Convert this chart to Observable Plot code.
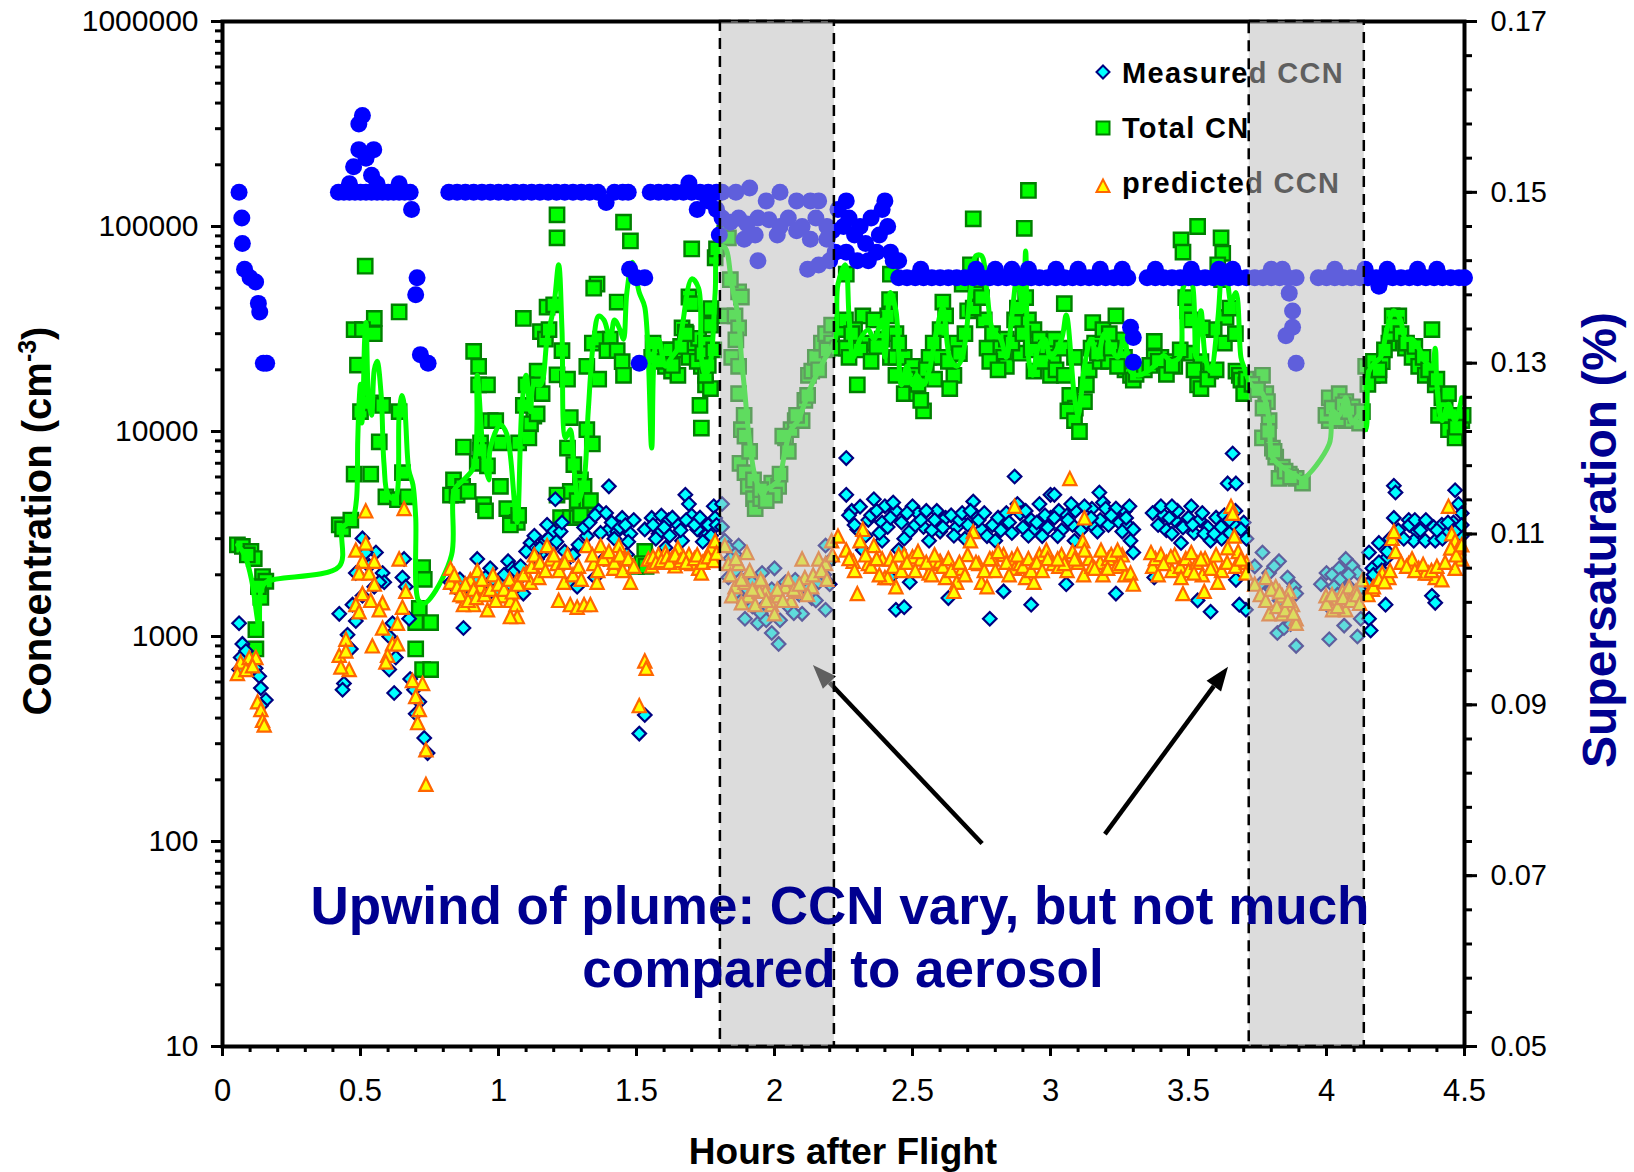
<!DOCTYPE html>
<html><head><meta charset="utf-8">
<script src="https://cdn.jsdelivr.net/npm/d3@7"></script>
<script src="https://cdn.jsdelivr.net/npm/@observablehq/plot@0.6"></script>
<style>
html,body{margin:0;padding:0;background:#fff;}
#wrap{position:relative;width:1634px;height:1172px;overflow:hidden;background:#fff;}
#wrap svg{position:absolute;left:0;top:0;}
</style></head><body><div id="wrap"></div><script>
// ---------------- data ----------------
const hourTicks = [0, 0.5, 1, 1.5, 2, 2.5, 3, 3.5, 4, 4.5];
const concTicks = [10, 100, 1000, 10000, 100000, 1000000];
const ssTicks = [0.05, 0.07, 0.09, 0.11, 0.13, 0.15, 0.17];
const shadedPeriods = [[1.804, 2.217], [3.72, 4.137]];

// Supersaturation (%) [hours, value]
const supersaturation = [
[0.06,0.150],[0.07,0.147],[0.072,0.144],[0.08,0.141],[0.10,0.140],[0.12,0.1395],[0.13,0.137],[0.135,0.136],[0.148,0.130],[0.16,0.130],
[0.42,0.150],[0.44,0.150],[0.46,0.151],[0.475,0.153],[0.46,0.150],[0.48,0.150],[0.494,0.155],[0.494,0.158],[0.507,0.159],[0.50,0.150],[0.52,0.154],[0.52,0.150],[0.54,0.152],[0.548,0.155],[0.54,0.150],[0.56,0.151],[0.56,0.150],[0.58,0.150],[0.60,0.150],[0.62,0.150],[0.64,0.151],[0.64,0.150],[0.66,0.150],[0.68,0.150],[0.685,0.148],[0.705,0.140],[0.70,0.138],[0.717,0.131],[0.745,0.130],
[0.82,0.150],[0.85,0.150],[0.88,0.150],[0.91,0.150],[0.94,0.150],[0.97,0.150],[1.00,0.150],[1.03,0.150],[1.06,0.150],[1.09,0.150],[1.12,0.150],[1.15,0.150],[1.18,0.150],[1.21,0.150],[1.24,0.150],[1.27,0.150],[1.30,0.150],[1.33,0.150],[1.36,0.150],[1.39,0.1488],[1.42,0.150],[1.45,0.150],[1.47,0.150],[1.475,0.141],[1.50,0.140],[1.53,0.140],[1.51,0.130],
[1.55,0.150],[1.58,0.150],[1.61,0.150],[1.64,0.150],[1.67,0.150],[1.69,0.1511],[1.70,0.150],[1.72,0.148],[1.73,0.150],[1.76,0.149],[1.76,0.150],[1.79,0.148],[1.79,0.150],
[1.81,0.150],[1.86,0.150],[1.91,0.1505],[1.97,0.149],[2.02,0.150],[2.08,0.149],[2.13,0.149],[2.16,0.149],[1.81,0.147],[1.84,0.1465],[1.87,0.147],[1.90,0.1463],[1.94,0.147],[1.98,0.1468],[2.02,0.146],[2.05,0.147],[2.10,0.146],[2.15,0.147],[2.19,0.146],[1.80,0.145],[1.89,0.1445],[1.93,0.145],[2.01,0.145],[2.08,0.1455],[2.13,0.1445],[2.19,0.1445],[2.21,0.1455],[1.94,0.142],[2.12,0.141],[2.16,0.1415],[2.20,0.142],[2.22,0.143],
[2.23,0.148],[2.25,0.146],[2.26,0.149],[2.27,0.147],[2.29,0.145],[2.31,0.146],[2.33,0.144],[2.35,0.147],[2.37,0.143],[2.38,0.145],[2.39,0.148],[2.41,0.146],[2.42,0.143],[2.43,0.142],[2.45,0.142],[2.26,0.143],[2.30,0.142],[2.34,0.142],[2.40,0.149],
[2.45,0.140],[2.48,0.140],[2.51,0.140],[2.53,0.141],[2.54,0.140],[2.57,0.140],[2.60,0.140],[2.63,0.140],[2.66,0.140],[2.69,0.140],[2.72,0.140],[2.73,0.141],[2.75,0.140],[2.78,0.140],[2.80,0.141],[2.81,0.140],[2.84,0.140],[2.86,0.141],[2.87,0.140],[2.90,0.140],[2.92,0.141],[2.93,0.140],[2.96,0.140],[2.99,0.140],[3.02,0.141],[3.02,0.140],[3.05,0.140],[3.08,0.140],[3.10,0.141],[3.11,0.140],[3.14,0.140],[3.17,0.140],[3.18,0.141],[3.20,0.140],[3.23,0.140],[3.26,0.141],[3.26,0.140],[3.28,0.140],
[3.29,0.1342],[3.30,0.133],[3.30,0.1301],
[3.35,0.140],[3.38,0.141],[3.38,0.140],[3.41,0.140],[3.44,0.140],[3.47,0.140],[3.50,0.140],[3.51,0.141],[3.53,0.140],[3.56,0.140],[3.59,0.140],[3.61,0.141],[3.62,0.140],[3.65,0.140],[3.66,0.141],[3.68,0.140],[3.71,0.140],[3.74,0.140],[3.77,0.140],[3.80,0.141],[3.80,0.140],[3.83,0.140],[3.84,0.141],[3.86,0.140],[3.89,0.140],
[3.865,0.1382],[3.877,0.1361],[3.853,0.1332],[3.877,0.1342],[3.89,0.130],
[3.97,0.140],[4.00,0.140],[4.03,0.141],[4.03,0.140],[4.06,0.140],[4.09,0.140],[4.12,0.140],[4.14,0.141],[4.15,0.140],[4.18,0.140],[4.19,0.139],[4.21,0.140],[4.22,0.141],[4.24,0.140],[4.27,0.140],[4.30,0.140],[4.33,0.141],[4.33,0.140],[4.36,0.140],[4.39,0.140],[4.40,0.141],[4.42,0.140],[4.45,0.140],[4.48,0.140],[4.50,0.140]
];

// Total CN (cm^-3) [hours, value]
const totalCN = [
[0.054,2800],[0.072,2750],[0.103,2600],[0.115,2400],[0.145,1960],[0.157,1860],[0.139,1550],[0.121,1080],[0.121,870],[0.09,2500],[0.13,1750],
[0.517,64000],[0.64,38300],[0.55,35600],[0.477,31400],[0.507,31400],[0.55,30000],[0.489,21100],[0.50,12500],[0.537,13800],[0.58,13400],[0.568,8900],[0.477,6200],[0.537,6200],[0.592,4800],[0.634,4650],[0.652,6300],[0.423,3500],[0.435,3350],[0.465,3700],[0.725,2170],[0.731,1900],[0.713,1370],[0.70,1170],[0.70,870],[0.725,690],[0.64,12500],[0.67,4800],[0.754,1170],[0.754,690],
[1.212,114000],[1.212,88000],[1.453,105000],[1.478,85000],[1.357,52400],[1.345,50000],[1.43,42800],[1.09,35600],[1.176,40400],[1.20,41500],[1.152,30700],[1.17,28200],[1.183,31400],[1.34,27000],[1.37,28200],[1.405,28200],[1.393,24800],[1.43,24800],[1.448,21900],[0.91,24600],[0.928,20800],[0.928,16900],[0.96,16900],[1.23,24800],[1.212,18900],[1.25,18000],[1.32,20800],[1.363,18000],[1.453,18800],[1.14,19700],[1.10,16900],[1.14,16900],[1.158,15300],[1.128,11900],[1.09,13400],[1.116,10900],[1.14,12200],[0.873,8400],[0.935,8800],[0.97,11300],[0.99,11300],[1.007,8800],[1.073,8800],[1.11,9300],[0.923,7000],[0.935,8100],[0.96,6800],[0.837,5800],[0.87,5400],[0.826,4900],[0.85,4900],[0.89,5100],[1.26,11700],[1.32,10200],[1.34,8700],[1.25,8300],[1.273,6900],[1.297,5800],[1.31,5400],[1.26,5100],[1.285,4600],[1.32,4400],[1.333,4600],[1.212,4900],[0.946,4400],[0.953,4100],[1.007,5400],[1.03,4200],[1.068,3600],[1.043,3500],[1.073,3900],[1.225,3800],[1.26,3800],[1.285,3800],[1.297,3900],[1.50,2200],
[1.70,77700],[1.785,70400],[1.79,77700],[1.69,45300],[1.70,42000],[1.77,39800],[1.665,32000],[1.677,30500],[1.64,25000],[1.706,25500],[1.725,28500],[1.75,27000],[1.768,33000],[1.58,25000],[1.555,23000],[1.605,20800],[1.627,19700],[1.65,18800],[1.69,23000],[1.735,20800],[1.75,16900],[1.768,16200],[1.75,18800],[1.73,13400],[1.735,10400],[1.53,2600],[1.52,2270],[1.535,2200],
[1.56,27000],[1.59,22000],[1.62,25000],[1.63,21000],[1.66,26000],[1.68,30000],[1.72,22000],[1.74,24000],[1.76,21000],[1.78,25000],
[1.82,93000],[1.833,88000],[1.87,48000],[1.88,45300],[1.82,36600],[1.857,36600],[1.87,32000],[1.845,23000],[1.87,20800],[1.87,15300],[1.88,10200],[1.893,9500],[1.875,7000],[1.893,6300],[1.905,5400],[1.924,4700],[1.93,4200],[1.95,4700],[1.967,5200],[1.99,5600],[2.015,5400],[2.0,4900],[1.924,5800],[2.04,9300],[2.06,10200],[2.075,11300],[2.10,11300],[2.03,9500],[2.11,14200],[2.123,18800],[2.135,19700],[2.148,23000],[2.17,27000],[2.185,30000],[2.207,33000],[2.207,27000],
[1.84,55000],[1.86,28000],[1.89,12000],[1.91,8000],[1.95,5200],[1.97,4600],[2.02,6200],[2.05,8000],[2.08,12000],[2.12,15000],[2.16,20000],[2.19,25000],
[2.23,25500],[2.245,31400],[2.257,35000],
[2.92,150000],[2.72,109000],[2.905,98000],[2.42,58500],[2.26,58500],[2.417,44000],[2.41,36600],[2.32,36600],[2.36,35000],[2.29,31400],[2.26,25500],[2.27,23000],[2.34,27000],[2.39,28200],[2.44,30000],[2.30,16900],[2.42,23000],[2.44,23000],
[2.47,23000],[2.50,20800],[2.44,18800],[2.47,15300],[2.515,15300],[2.54,12600],[2.50,18800],[2.53,14200],
[2.61,42800],[2.62,36600],[2.60,31400],[2.575,27000],[2.56,23000],[2.66,27000],[2.60,23000],[2.65,18800],[2.635,16200],
[2.70,38800],[2.68,52400],[2.71,65000],[2.73,47600],[2.76,35000],[2.79,30000],[2.77,25500],[2.82,25500],[2.83,23000],[2.84,20800],
[2.91,45000],[2.92,35000],[2.94,31400],[2.96,28200],[2.985,25500],[3.01,23000],[3.0,18800],[2.87,35000],[2.84,28200],[2.89,24100],[2.94,19700],
[2.28,30000],[2.31,25000],[2.35,22000],[2.37,26000],[2.45,27000],[2.48,18000],[2.52,17000],[2.55,20000],[2.58,18000],[2.63,22000],[2.67,24000],[2.69,30000],[2.72,40000],[2.74,55000],[2.75,45000],[2.78,22000],[2.81,20000],[2.86,27000],[2.88,40000],[2.90,30000],[2.93,25000],[2.97,22000],[3.02,20000],[3.07,15000],[3.09,13000],[3.14,20000],[3.16,27000],[3.18,22000],[3.21,22000],[3.25,28000],[3.27,20000],
[3.533,100000],[3.473,86000],[3.48,75000],[3.618,88000],[3.624,74000],[3.606,65000],[3.05,42000],[3.153,34000],[3.19,31400],[3.237,36600],[3.213,30000],[3.014,28200],[3.04,25500],[3.147,25500],[3.17,24100],[3.22,25500],[3.268,23000],[3.05,18800],[3.087,23000],[3.29,18800],[3.30,17800],[3.243,20800],[3.063,12600],[3.087,11300],[3.105,10000],[3.123,14000],[3.13,16900],
[3.376,27500],[3.40,23000],[3.424,21900],[3.45,20800],[3.51,24100],[3.545,21900],[3.58,19700],[3.533,16900],[3.545,16200],[3.376,23000],[3.497,38800],[3.51,35000],[3.636,36000],[3.593,31400],[3.63,27000],[3.672,19700],[3.684,18800],[3.69,17800],[3.708,16900],[3.70,15300],
[3.31,19000],[3.34,20000],[3.36,21000],[3.39,22000],[3.42,19000],[3.44,21000],[3.47,25000],[3.49,45000],[3.52,20000],[3.55,32000],[3.57,18000],[3.60,20000],[3.62,55000],[3.65,40000],[3.67,30000],[3.71,18000],
[3.768,18800],[3.78,15300],[3.786,14000],[3.792,11300],[3.768,9300],[3.804,8300],[3.816,7500],[3.84,6700],[3.865,6200],[3.89,5900],[3.913,5600],[3.828,5900],
[3.73,17000],[3.75,16000],[3.77,13000],[3.79,10000],[3.81,8000],[3.85,6400],[3.87,6000],
[4.01,14600],[4.046,15300],[4.07,14000],[4.094,13200],[4.01,11300],[4.034,12000],[4.07,11300],[4.106,12000],[3.998,12000],[4.02,13000],[4.04,11500],[4.06,13500],[4.08,12500],[4.12,11000],[4.13,12500],
[4.142,20800],[4.166,18800],[4.19,18800],[4.202,21900],[4.226,27000],[4.238,36600],[4.262,36600],[4.286,25500],[4.31,23000],[4.334,20800],[4.358,18800],[4.382,31400],[4.394,16900],[4.418,14600],[4.442,15300],[4.466,11300],[4.49,11300],[4.495,12000],[4.406,12000],[4.442,10200],[4.466,9300],
[4.15,17000],[4.17,22000],[4.19,20000],[4.21,25000],[4.23,30000],[4.25,33000],[4.27,30000],[4.29,27000],[4.32,26000],[4.35,23000],[4.37,20000],[4.40,18000],[4.43,13000],[4.45,12000],[4.47,10500]
];

// Total CN, smoothed trace [hours, value]
const totalCNSmooth = [
[0.055,2800],[0.08,2500],[0.105,1900],[0.125,1250],[0.133,1080],[0.14,1700],[0.16,1850],
[0.423,2200],[0.435,3400],[0.47,3700],[0.485,4600],[0.49,9000],[0.495,14000],[0.50,17000],[0.505,11000],[0.51,15000],[0.515,28000],[0.52,34000],[0.53,14000],[0.54,12000],[0.55,20000],[0.56,22000],[0.575,15000],[0.585,7000],[0.60,4900],[0.625,4700],[0.64,12000],[0.65,15000],[0.66,13000],[0.675,6500],[0.69,5500],[0.70,3800],[0.71,1500],[0.73,1450],
[0.754,1540],[0.83,2500],[0.84,5200],[0.873,5800],[0.91,6700],[0.923,18800],[0.946,7600],[0.965,5800],[0.97,8300],[1.007,10800],[1.03,9700],[1.06,4200],[1.068,3600],[1.085,13400],[1.10,18800],[1.116,12500],[1.128,16900],[1.152,16900],[1.176,28200],[1.20,40400],[1.218,65000],[1.23,31400],[1.243,9300],[1.26,10200],[1.273,6700],[1.29,4600],[1.31,5800],[1.325,12500],[1.345,28200],[1.363,36600],[1.382,35000],[1.405,28200],[1.42,35000],[1.44,31400],[1.453,28200],[1.465,47600],[1.485,67000],[1.51,47600],[1.53,40400],[1.555,8300],[1.567,25500],[1.58,28200],[1.605,20800],[1.627,23000],[1.65,25500],[1.70,55500],[1.725,50000],[1.735,23000],[1.75,18800],[1.768,21900],[1.785,47600],[1.797,79000],[1.82,79000],[1.845,52400],[1.87,35000],[1.88,23000],[1.893,15300],[1.905,10200],[1.93,6000],[1.958,4900],[1.967,5200],[1.99,5400],[2.015,5800],[2.04,8300],[2.06,10200],[2.085,11300],[2.11,13800],[2.135,16900],[2.185,23000],[2.22,28200],[2.23,52400],[2.257,65000],[2.27,36600],[2.285,23000],[2.31,28200],[2.34,31400],[2.36,28200],[2.39,35000],[2.40,23000],[2.42,47600],[2.44,38800],[2.46,16900],[2.48,20800],[2.50,16900],[2.515,18800],[2.54,16900],[2.56,19700],[2.588,31400],[2.61,40400],[2.635,23000],[2.66,20800],[2.68,23000],[2.71,47600],[2.73,72000],[2.75,72000],[2.77,47600],[2.79,31400],[2.82,28200],[2.84,23000],[2.86,36600],[2.88,58000],[2.90,38800],[2.91,76000],[2.92,23000],[2.935,18800],[2.955,25500],[2.98,28200],[3.0,23000],[3.04,28200],[3.057,37000],[3.087,14600],[3.10,12000],[3.11,14600],[3.123,20800],[3.147,28200],[3.17,23000],[3.195,30000],[3.22,25500],[3.243,23000],[3.268,28200],[3.29,19700],[3.32,18800],[3.376,20800],[3.41,23500],[3.436,22000],[3.467,23000],[3.48,50000],[3.503,55500],[3.515,51500],[3.527,23000],[3.545,38800],[3.563,22000],[3.58,19700],[3.606,35000],[3.624,63500],[3.642,52400],[3.654,42800],[3.672,47600],[3.69,23000],[3.70,20800],[3.727,16900],[3.768,15300],[3.792,11300],[3.804,7500],[3.84,6700],[3.89,6100],[3.913,5900],[4.01,8700],[4.022,12600],[4.046,12000],[4.07,14600],[4.094,11000],[4.118,12000],[4.142,10200],[4.154,19700],[4.178,21900],[4.196,23000],[4.22,32000],[4.244,38800],[4.268,35000],[4.286,28200],[4.31,28200],[4.334,25500],[4.358,21900],[4.382,20800],[4.394,25500],[4.40,16900],[4.418,11300],[4.442,13600],[4.466,11300],[4.49,14600]
];

// Measured CCN [hours, value]
const measuredCCN = [
[0.06,1160],[0.072,920],[0.066,790],[0.06,690],[0.085,850],[0.10,760],[0.12,700],[0.133,640],[0.139,560],[0.157,490],[0.139,460],
[0.423,1290],[0.44,590],[0.435,550],[0.453,1020],[0.465,870],[0.507,3010],[0.556,2570],[0.531,2210],[0.58,2040],[0.586,1840],[0.483,2040],[0.471,1430],[0.483,1190],[0.604,690],[0.622,530],[0.628,790],[0.616,1160],[0.658,2390],[0.652,1940],[0.664,1750],[0.676,1220],[0.694,550],[0.713,480],[0.731,320],[0.743,270],[0.519,2570],[0.568,1840],[0.55,1750],[0.507,1580],[0.604,1000],[0.70,420],[0.68,620],
[0.923,2390],[1.035,2330],[0.873,1100],[0.826,1840],[0.86,1660],[0.898,1840],[0.953,1940],[0.99,1750],[1.02,1840],[1.08,1940],[1.09,1620],[1.116,2860],[1.128,2640],[1.152,2510],[1.17,2930],[1.176,3510],[1.20,3250],[1.225,3250],[1.206,4670],[1.237,2270],[1.26,1840],[1.285,1750],[1.32,3090],[1.363,4100],[1.40,3330],[1.448,3790],[1.478,3170],[1.40,5400],[1.35,1940],[1.382,2390],[1.43,3250],[1.465,2510],[1.05,2150],[1.14,2390],[0.97,2150],[1.51,336],[1.53,414],
[0.84,1750],[0.86,1900],[0.88,1700],[0.90,1600],[0.92,1850],[0.94,1700],[0.96,1600],[0.98,1900],[1.00,1650],[1.02,2000],[1.04,1800],[1.06,2100],[1.08,2200],
[1.10,2600],[1.13,3100],[1.15,2700],[1.18,3000],[1.19,2700],[1.21,2900],[1.23,3600],[1.24,2600],[1.27,2500],[1.29,2800],[1.31,3400],[1.33,3600],[1.35,3900],[1.37,3200],[1.39,4000],[1.41,3600],[1.42,3000],[1.44,3400],[1.46,3500],[1.47,2900],[1.49,3700],
[1.677,4910],[1.69,4430],[1.555,3790],[1.59,3890],[1.617,3700],[1.65,3510],[1.70,3890],[1.735,3250],[1.78,4320],[1.81,4430],[1.53,3330],[1.58,3170],[1.64,2270],[1.605,2710],[1.665,2930],[1.72,3330],[1.75,3090],[1.785,3790],
[1.56,3500],[1.57,3000],[1.60,3400],[1.62,3100],[1.63,3800],[1.66,3300],[1.68,3700],[1.71,3500],[1.73,3800],[1.74,2900],[1.76,3500],[1.77,3100],[1.79,3500],
[1.81,3420],[1.82,2930],[1.833,2710],[1.87,2780],[1.857,2510],[1.893,1890],[1.918,1840],[1.955,2040],[2.0,2150],[1.99,1700],[2.04,1840],[2.075,1890],[2.185,2780],[2.185,1350],[2.135,1540],[2.10,1290],[1.893,1220],[1.94,1160],[1.99,1040],[2.015,920],[1.967,1430],[2.16,1840],[2.207,2390],[1.87,1620],[1.833,1940],
[1.84,2400],[1.86,2100],[1.88,1500],[1.90,1700],[1.92,1400],[1.95,1300],[1.97,1200],[2.02,1200],[2.05,1400],[2.07,1300],[2.09,1600],[2.12,1700],[2.15,1500],[2.18,2000],[2.20,1800],
[2.26,7420],[2.26,4910],[2.28,4100],[2.36,4670],[2.40,4320],[2.44,4100],[2.39,3600],[2.41,3420],[2.34,3700],[2.30,3330],[2.50,4320],[2.52,3990],[2.54,3420],[2.588,4100],[2.62,3790],[2.60,3250],[2.56,2930],[2.44,1350],[2.47,1390],[2.49,1840],[2.63,1540],[2.72,4550],[2.73,3890],[2.70,3510],[2.75,3330],[2.77,3090],[2.78,1220],[2.87,6030],[2.88,4430],[2.89,3990],[2.93,3700],[2.96,4430],[3.0,4910],[3.0,3790],[2.94,3330],[2.83,1660],[2.93,1430],[2.49,3250],[2.39,2930],[2.42,1940],[2.45,2640],[2.66,3420],[2.80,2930],[2.97,3090],[2.32,2640],
[2.27,3900],[2.29,3500],[2.31,4300],[2.33,3100],[2.35,3900],[2.37,4100],[2.38,3200],[2.42,3800],[2.43,4500],[2.46,3600],[2.47,3000],[2.48,4000],[2.51,3500],[2.53,3700],[2.55,4100],[2.57,3300],[2.58,3700],[2.61,3400],[2.64,3900],[2.65,3100],[2.67,3700],[2.68,4000],[2.69,3000],[2.71,4100],[2.74,3700],[2.76,4000],[2.79,3500],[2.81,3800],[2.82,3300],[2.84,4000],[2.85,3600],[2.86,3200],[2.90,3400],[2.91,4100],[2.92,3100],[2.95,3600],[2.98,3900],[2.99,3400],
[3.03,4100],[3.04,3300],[3.06,3900],[3.08,3500],[3.09,4100],[3.11,3300],[3.13,3600],[3.15,4200],[3.16,3400],[3.18,3700],[3.19,4500],[3.21,3500],[3.23,4000],[3.25,3600],[3.27,4100],[3.28,3500],[3.37,4000],[3.39,3500],[3.41,3900],[3.42,3300],[3.45,3700],[3.46,4100],[3.48,3400],[3.50,3800],[3.52,3200],[3.54,3700],[3.55,4000],[3.57,3400],[3.60,3800],[3.62,3000],[3.63,3900],[3.65,3200],[3.67,4100],[3.70,3600],[3.71,3000],
[3.66,7810],[3.642,5580],[3.672,5580],[3.014,4910],[3.075,4430],[3.123,4320],[3.177,5040],[3.20,4210],[3.237,4210],[3.286,4320],[3.014,3790],[3.063,3700],[3.147,3790],[3.22,3890],[3.274,3790],[3.26,3250],[3.30,3330],[3.29,2930],[3.30,2570],[3.026,3090],[3.17,3250],[3.087,2930],[3.237,1620],[3.057,1800],[3.40,4320],[3.44,4320],[3.51,4320],[3.43,3790],[3.44,3170],[3.473,2860],[3.515,3510],[3.557,3170],[3.58,2930],[3.593,3170],[3.618,3420],[3.666,3510],[3.69,3330],[3.648,3700],[3.376,1940],[3.533,1500],[3.58,1320],[3.708,1350],[3.684,1430],[3.672,1890],
[3.768,2570],[3.828,2330],[3.792,2040],[3.859,1940],[3.883,1750],[3.89,1620],[3.865,1350],[3.822,1040],[3.846,1100],[3.89,900],[4.0,2040],[4.046,2150],[4.07,2390],[4.094,2210],[4.112,2040],[4.028,1750],[4.082,1750],[4.01,1390],[4.064,1130],[4.01,970],[4.112,1000],[4.124,1220],
[3.74,2200],[3.76,1800],[3.80,1700],[3.81,2200],[3.83,1500],[3.85,1300],[3.87,1150],[3.98,1800],[4.02,2000],[4.04,1600],[4.05,1900],[4.08,2000],[4.10,1500],[4.12,1700],
[4.154,2570],[4.19,2860],[4.214,2390],[4.166,2150],[4.154,1220],[4.16,1070],[4.214,1430],[4.244,5440],[4.25,5040],[4.244,3790],[4.298,3700],[4.328,3250],[4.316,2930],[4.358,2930],[4.388,3420],[4.418,3510],[4.394,2930],[4.436,3170],[4.466,5170],[4.478,4430],[4.49,3990],[4.46,3600],[4.49,3090],[4.382,1580],[4.394,1460],
[4.15,1800],[4.17,2000],[4.19,2300],[4.20,2100],[4.22,2600],[4.23,3000],[4.26,3300],[4.28,3000],[4.30,3500],[4.32,3700],[4.34,3300],[4.36,3700],[4.40,3300],[4.42,3000],[4.44,3600],[4.47,3300],[4.49,3500]
];

// Predicted CCN [hours, value]
const predictedCCN = [
[0.066,750],[0.097,790],[0.121,790],[0.054,660],[0.085,690],[0.109,720],[0.127,480],[0.139,440],[0.145,390],[0.151,370],
[0.519,4100],[0.658,4210],[0.519,2860],[0.483,2640],[0.507,2330],[0.55,2330],[0.495,2040],[0.531,2040],[0.55,1800],[0.58,1460],[0.507,1620],[0.483,1430],[0.537,1500],[0.568,1350],[0.495,1320],[0.64,2390],[0.664,1660],[0.652,1390],[0.634,1160],[0.616,920],[0.598,810],[0.592,750],[0.634,920],[0.58,1100],[0.543,900],[0.447,970],[0.423,810],[0.459,690],[0.447,850],[0.429,710],[0.688,610],[0.725,590],[0.70,510],[0.713,440],[0.707,380],[0.737,280],[0.737,190],
[0.826,2150],[0.826,1840],[0.85,1750],[0.873,1580],[0.898,1890],[0.923,2100],[0.935,1750],[0.96,1350],[0.91,1430],[0.873,1430],[0.98,2000],[1.013,1580],[1.043,1500],[1.063,1430],[1.068,1250],[1.043,1250],[1.068,1890],[1.10,2040],[1.116,1840],[1.146,1940],[1.176,2780],[1.19,2390],[1.212,2270],[1.237,1840],[1.25,2510],[1.218,1500],[1.26,1430],[1.285,1390],[1.31,1430],[1.333,1430],[1.32,2780],[1.345,2270],[1.357,1840],[1.405,2390],[1.436,2780],[1.46,2390],[1.478,1840],[1.37,2780],[1.417,2150],[1.51,460],[1.53,760],[1.535,700],
[0.84,2000],[0.86,1600],[0.88,1800],[0.89,1500],[0.91,1700],[0.92,1550],[0.94,1900],[0.95,1600],[0.97,1700],[0.99,1500],[1.00,1800],[1.02,1700],[1.04,1900],[1.05,1650],[1.07,1800],[1.09,2000],
[1.12,2200],[1.13,2500],[1.15,2300],[1.17,2100],[1.20,2500],[1.22,2100],[1.24,2300],[1.27,2000],[1.29,2200],[1.30,1900],[1.34,2500],[1.36,2100],[1.38,2400],[1.40,2600],[1.42,2300],[1.44,2500],[1.45,2100],[1.47,2400],[1.49,2200],
[1.543,2390],[1.58,2510],[1.605,2570],[1.627,2390],[1.65,2710],[1.69,2510],[1.70,2270],[1.725,2150],[1.75,2390],[1.77,2710],[1.785,2930],[1.555,2210],[1.64,2210],[1.735,2040],
[1.56,2450],[1.57,2300],[1.59,2350],[1.61,2450],[1.62,2300],[1.64,2500],[1.66,2350],[1.67,2450],[1.68,2300],[1.71,2400],[1.72,2500],[1.74,2300],[1.76,2450],[1.78,2350],[1.79,2550],
[1.82,2780],[1.833,2270],[1.87,2270],[1.857,1750],[1.845,1580],[1.893,1840],[1.90,2570],[1.905,1580],[1.93,1430],[1.958,1840],[1.967,1660],[1.99,1430],[2.0,1290],[2.04,1750],[2.06,1500],[2.085,1660],[2.10,2390],[2.11,1940],[2.135,1750],[2.16,2390],[2.185,2270],[2.207,2930],[2.23,3090],[1.88,1460],[2.015,1580],[1.945,1660],
[1.84,2000],[1.86,2400],[1.88,1900],[1.91,2100],[1.92,1700],[1.95,1900],[1.97,1500],[2.01,1700],[2.03,1500],[2.05,1900],[2.07,1700],[2.09,1800],[2.12,1600],[2.14,2000],[2.17,2100],[2.19,1900],[2.21,2500],
[2.26,2640],[2.285,2330],[2.32,3330],[2.31,2930],[2.36,2780],[2.39,2390],[2.34,2270],[2.40,1940],[2.44,1750],[2.30,1620],[2.41,1940],[2.47,2510],[2.50,2450],[2.53,2390],[2.575,2270],[2.60,2330],[2.62,1940],[2.66,1840],[2.65,1660],[2.72,3250],[2.71,2930],[2.70,2510],[2.68,2150],[2.74,2270],[2.75,1840],[2.77,1750],[2.79,2390],[2.83,2510],[2.87,4320],[2.86,2390],[2.87,2150],[2.89,2270],[2.91,1940],[2.94,1840],[2.96,2510],[2.985,2640],[3.01,2270],[2.56,2040],[2.42,2390],
[2.27,2400],[2.29,2100],[2.33,2500],[2.35,2200],[2.37,2400],[2.38,2000],[2.43,2200],[2.45,2500],[2.46,2100],[2.48,2300],[2.51,2100],[2.52,2600],[2.55,2300],[2.57,2000],[2.58,2500],[2.61,2200],[2.63,2400],[2.64,2100],[2.67,2300],[2.69,2000],[2.73,2300],[2.76,2100],[2.78,2400],[2.80,2100],[2.81,2600],[2.84,2300],[2.85,2000],[2.88,2500],[2.90,2200],[2.92,2400],[2.93,2100],[2.95,2300],[2.97,2100],[2.99,2400],
[3.03,2200],[3.04,2500],[3.06,2100],[3.08,2600],[3.10,2300],[3.12,2000],[3.14,2400],[3.15,2200],[3.18,2300],[3.19,2000],[3.21,2400],[3.24,2200],[3.26,2500],[3.27,2000],[3.37,2200],[3.38,2400],[3.39,2000],[3.42,2300],[3.44,2100],[3.45,2500],[3.47,2200],[3.49,2400],[3.50,2100],[3.53,2300],[3.55,2000],[3.56,2400],[3.59,2200],[3.60,2500],[3.62,2100],[3.64,2300],[3.67,2200],[3.68,2600],[3.71,2300],
[3.07,5900],[3.123,3790],[3.117,2930],[3.123,2640],[3.087,2390],[3.05,2270],[3.16,2150],[3.183,2640],[3.22,2510],[3.243,2640],[3.255,2270],[3.29,2040],[3.30,1800],[3.207,2150],[3.026,2390],[3.364,2570],[3.40,2510],[3.436,2450],[3.473,1940],[3.48,1620],[3.51,2570],[3.545,2390],[3.58,2150],[3.606,1840],[3.642,2710],[3.666,3090],[3.654,4320],[3.66,3990],[3.69,2390],[3.708,2040],[3.557,1660],[3.41,2270],[3.52,2040],
[3.78,1940],[3.816,1750],[3.84,1580],[3.865,1660],[3.877,1430],[3.89,1220],[3.792,1290],[3.84,1290],[3.89,1160],[3.998,1580],[4.034,1500],[4.058,1660],[4.082,1750],[4.106,1660],[4.13,1890],[4.022,1350],[4.07,1350],
[3.74,1800],[3.76,1600],[3.78,1500],[3.80,1700],[3.82,1400],[3.83,1650],[3.85,1350],[3.86,1500],[3.88,1300],[4.00,1450],[4.02,1600],[4.04,1400],[4.06,1550],[4.09,1500],[4.11,1600],[4.12,1450],
[4.166,1700],[4.202,2040],[4.226,1940],[4.238,3010],[4.244,3250],[4.298,2270],[4.334,2150],[4.37,2040],[4.394,1940],[4.418,1890],[4.442,4320],[4.454,3170],[4.466,2930],[4.478,2710],[4.49,2390],[4.466,2150],[4.31,2390],[4.358,2040],
[4.15,1600],[4.17,1750],[4.19,1900],[4.21,1850],[4.23,2100],[4.25,2600],[4.27,2300],[4.29,2200],[4.32,2100],[4.35,2250],[4.38,2100],[4.40,2200],[4.43,2300],[4.45,2700],[4.47,2500],[4.49,2800]
];

// ---------------- layout ----------------
const W = 1634, H = 1172;
const M = {marginLeft: 222, marginRight: 170, marginTop: 21, marginBottom: 126};
const FONT = "'Liberation Sans', Arial, Helvetica, sans-serif";
const NAVY = "#000090";

const minorConc = [];
for (const dec of [10, 100, 1000, 10000, 100000]) for (const m of [2,3,4,5,6,7,8,9]) minorConc.push(dec * m);
const minorHours = d3.range(0, 4.5001, 0.1).filter(v => Math.abs(v*2 - Math.round(v*2)) > 1e-6);
const minorSS = d3.range(0.05, 0.1701, 0.004);

const tri = {draw(ctx, size) { const r = Math.sqrt(size / Math.PI); ctx.moveTo(0, -r); ctx.lineTo(r, r); ctx.lineTo(-r, r); ctx.closePath(); }};

const plotA = Plot.plot({
  width: W, height: H, ...M,
  x: {domain: [0, 4.5]},
  y: {type: "log", domain: [10, 1e6]},
  style: {fontFamily: FONT, background: "white", color: "black", overflow: "visible"},
  marks: [
    Plot.dot(totalCN, {x: d => d[0], y: d => d[1], symbol: "square", r: 8.1, fill: "#00ff00", stroke: "#008000", strokeWidth: 2.4}),
    Plot.line(totalCNSmooth, {x: d => d[0], y: d => d[1], stroke: "#00ff00", strokeWidth: 5, curve: "catmull-rom"}),
    Plot.dot(measuredCCN, {x: d => d[0], y: d => d[1], symbol: "diamond2", r: 6.1, fill: "#00ffff", stroke: "#000080", strokeWidth: 2.2}),
    Plot.dot(predictedCCN, {x: d => d[0], y: d => d[1], symbol: tri, r: 6.6, fill: "#ffff00", stroke: "#ff6600", strokeWidth: 2.2}),
    Plot.axisY(concTicks, {anchor: "left", tickSize: 11, tickPadding: 13, strokeWidth: 3, tickFormat: d => String(d), fontSize: 30, letterSpacing: 1.2, label: null}),
    Plot.axisY(minorConc, {anchor: "left", tickSize: 7, strokeWidth: 3, tickFormat: () => "", label: null}),
    Plot.axisX(hourTicks, {anchor: "bottom", tickSize: 10, tickPadding: 22, strokeWidth: 3, tickFormat: d => String(d), fontSize: 31, label: null}),
    Plot.axisX(minorHours, {anchor: "bottom", tickSize: 6, strokeWidth: 3, tickFormat: () => "", label: null}),
    Plot.frame({stroke: "black", strokeWidth: 4})
  ]
});

const plotB = Plot.plot({
  width: W, height: H, ...M,
  x: {domain: [0, 4.5], axis: null},
  y: {domain: [0.05, 0.17]},
  style: {fontFamily: FONT, background: "transparent", color: "black", overflow: "visible"},
  marks: [
    Plot.dot(supersaturation, {x: d => d[0], y: d => d[1], r: 8.5, fill: "#0000ff"}),
    Plot.axisY(ssTicks, {anchor: "right", tickSize: 12, tickPadding: 14, strokeWidth: 3, tickFormat: d3.format(".2f"), fontSize: 29, letterSpacing: 1, label: null}),
    Plot.axisY(minorSS, {anchor: "right", tickSize: 7, strokeWidth: 3, tickFormat: () => "", label: null}),
    Plot.rect(shadedPeriods, {x1: d => d[0], x2: d => d[1], fill: "rgb(187,187,187)", fillOpacity: 0.51, stroke: "black", strokeWidth: 2.5, strokeDasharray: "11,7"})
  ]
});

const wrap = document.getElementById("wrap");
wrap.appendChild(plotA);
wrap.appendChild(plotB);

// ---------- additions in plot B (legend + arrows under the shading, text above) ----------
const sx = plotB.scale("x"), sy = plotB.scale("y");
const svgB = d3.select(plotB);
const rectG = plotB.querySelector('g[aria-label="rect"]');
const under = svgB.insert("g", () => rectG);

// legend
const legend = [
  {label: "Measured CCN", sym: "diamond", y: 72, base: 83},
  {label: "Total CN", sym: "square", y: 128, base: 138},
  {label: "predicted CCN", sym: "triangle", y: 186, base: 193}
];
for (const it of legend) {
  const g = under.append("g").attr("transform", `translate(1103,${it.y})`);
  if (it.sym === "diamond") g.append("path").attr("d", "M0,-6.5L6.5,0L0,6.5L-6.5,0Z").attr("fill", "#00ffff").attr("stroke", "#000080").attr("stroke-width", 2);
  if (it.sym === "square") g.append("rect").attr("x", -6.5).attr("y", -6.5).attr("width", 13).attr("height", 13).attr("fill", "#00ff00").attr("stroke", "#008000").attr("stroke-width", 2);
  if (it.sym === "triangle") g.append("path").attr("d", "M0,-6.5L6.5,6L-6.5,6Z").attr("fill", "#ffff00").attr("stroke", "#ff6600").attr("stroke-width", 2);
  under.append("text").attr("x", 1122).attr("y", it.base).attr("font-family", FONT).attr("font-weight", "bold")
    .attr("font-size", 29).attr("letter-spacing", 1.3).attr("text-anchor", "start").attr("fill", "black").text(it.label);
}

// arrows (data units: hours, supersaturation)
const arrows = [
  {from: [2.754, 0.0737], to: [2.141, 0.0946]},
  {from: [3.199, 0.0748], to: [3.645, 0.0944]}
];
for (const a of arrows) {
  const x1 = sx.apply(a.from[0]), y1 = sy.apply(a.from[1]);
  const x2 = sx.apply(a.to[0]), y2 = sy.apply(a.to[1]);
  const dx = x2 - x1, dy = y2 - y1, L = Math.hypot(dx, dy), ux = dx / L, uy = dy / L;
  const hl = 24, hw = 9;
  const bx = x2 - ux * hl, by = y2 - uy * hl;
  under.append("line").attr("x1", x1).attr("y1", y1).attr("x2", bx).attr("y2", by).attr("stroke", "black").attr("stroke-width", 4.5);
  under.append("path").attr("d", `M${x2},${y2}L${bx - uy*hw},${by + ux*hw}L${bx + uy*hw},${by - ux*hw}Z`).attr("fill", "black");
}

// annotation text (on top)
const note = svgB.append("text").attr("font-family", FONT).attr("font-weight", "bold").attr("font-size", 53)
  .attr("fill", NAVY).attr("text-anchor", "middle");
note.append("tspan").attr("x", 840).attr("y", 924).text("Upwind of plume: CCN vary, but not much");
note.append("tspan").attr("x", 843).attr("y", 987).text("compared to aerosol");

// axis titles
const yTitle = svgB.append("text").attr("font-family", FONT).attr("font-weight", "bold").attr("font-size", 40)
  .attr("fill", "black").attr("text-anchor", "middle").attr("transform", "translate(51,521) rotate(-90)");
yTitle.append("tspan").text("Concentration (cm");
yTitle.append("tspan").attr("font-size", 25).attr("dy", -15).text("-3");
yTitle.append("tspan").attr("dy", 15).text(")");

svgB.append("text").attr("font-family", FONT).attr("font-weight", "bold").attr("font-size", 48)
  .attr("fill", NAVY).attr("text-anchor", "middle").attr("transform", "translate(1616,540) rotate(-90)")
  .text("Supersaturation (%)");

svgB.append("text").attr("font-family", FONT).attr("font-weight", "bold").attr("font-size", 37)
  .attr("fill", "black").attr("text-anchor", "middle").attr("x", 843).attr("y", 1164)
  .text("Hours after Flight");
</script></body></html>
